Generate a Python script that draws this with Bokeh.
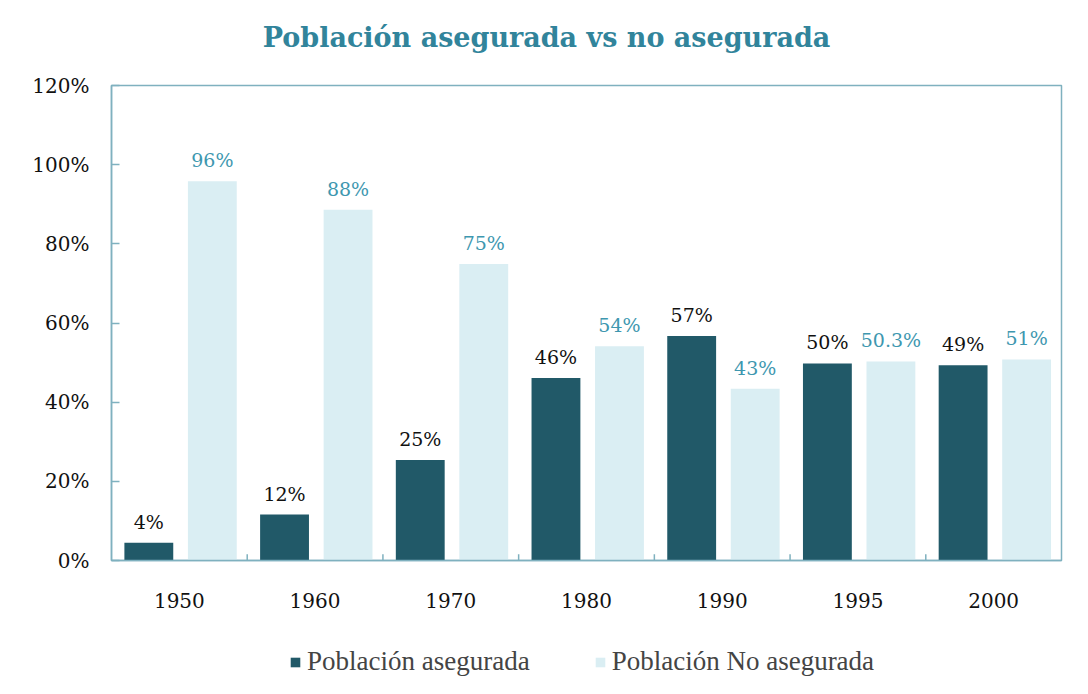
from bokeh.plotting import figure
from bokeh.layouts import column
from bokeh.models import (ColumnDataSource, FactorRange, Legend, LegendItem, Label, FixedTicker,
                          CustomJSTickFormatter, Range1d)
from bokeh.transform import dodge
from bokeh.core.properties import value
from bokeh.embed import file_html
from bokeh.resources import INLINE

years = ["1950", "1960", "1970", "1980", "1990", "1995", "2000"]
asegurada = [4.5, 11.6, 25.4, 46.1, 56.7, 49.8, 49.3]
no_asegurada = [95.8, 88.6, 74.9, 54.1, 43.4, 50.3, 50.8]
asegurada_labels = ["4%", "12%", "25%", "46%", "57%", "50%", "49%"]
no_asegurada_labels = ["96%", "88%", "75%", "54%", "43%", "50.3%", "51%"]
series_names = ["Población asegurada", "Población No asegurada"]
title_text = "Población asegurada vs no asegurada"
y_ticks = [0, 20, 40, 60, 80, 100, 120]
boundaries = [1, 2, 3, 4, 5, 6]

DARK = "#215968"
LIGHT = "#DAEEF3"
TITLE_C = "#31849B"
LIGHT_LBL = "#3E97AF"
FRAME_C = "#7FB1BF"
SERIF = "DejaVu Serif"
W = 1072

src = ColumnDataSource(dict(year=years, a=asegurada, n=no_asegurada,
                            al=asegurada_labels, nl=no_asegurada_labels))
x_range = FactorRange(factors=years)

# ---------- title strip (frame aligned with the chart frame: 111..1061 px) ----------
pt = figure(width=W, height=70, x_range=Range1d(111, 1061), y_range=Range1d(0, 70),
            x_axis_type=None, y_axis_type=None, output_backend="svg", toolbar_location=None,
            min_border=0)
pt.outline_line_color = None
pt.xgrid.visible = False
pt.ygrid.visible = False
pt.add_layout(Label(x=546, y=33, text=title_text, text_align="center", text_baseline="middle",
                    text_font=SERIF, text_font_style="bold", text_font_size="27px",
                    text_color=TITLE_C))

# ---------- main chart ----------
p = figure(frame_width=950, frame_height=475, x_range=x_range, y_range=(0, 120),
           output_backend="svg", toolbar_location=None,
           min_border_left=111, min_border_right=11, min_border_top=15, min_border_bottom=65)
p.outline_line_color = FRAME_C
p.outline_line_width = 1.5
p.xgrid.visible = False
p.ygrid.visible = False

p.vbar(x=dodge("year", -0.225, range=x_range), top="a", width=0.36, source=src,
       fill_color=DARK, line_color=None)
p.vbar(x=dodge("year", 0.243, range=x_range), top="n", width=0.36, source=src,
       fill_color=LIGHT, line_color=None)

p.text(x=dodge("year", -0.225, range=x_range), y="a", text="al", source=src,
       text_align="center", text_baseline="bottom", y_offset=-10,
       text_font=value(SERIF), text_font_size="19px", text_color="#111111")
p.text(x=dodge("year", 0.243, range=x_range), y="n", text="nl", source=src,
       text_align="center", text_baseline="bottom", y_offset=-10,
       text_font=value(SERIF), text_font_size="19px", text_color=LIGHT_LBL)

# category separator ticks on the x axis
p.segment(x0=boundaries, y0=[0] * 6, x1=boundaries, y1=[1.6] * 6, line_color=FRAME_C, line_width=1.5)

p.yaxis.ticker = FixedTicker(ticks=y_ticks)
p.yaxis.formatter = CustomJSTickFormatter(code="return tick + '%';")
for ax in (p.xaxis, p.yaxis):
    ax.axis_line_color = FRAME_C
    ax.axis_line_width = 1.5
    ax.major_label_text_font = SERIF
    ax.major_label_text_font_size = "20px"
    ax.major_label_text_color = "#111111"
    ax.minor_tick_line_color = None
p.yaxis.major_tick_in = 8
p.yaxis.major_tick_out = 0
p.yaxis.major_tick_line_color = FRAME_C
p.yaxis.major_tick_line_width = 1.5
p.yaxis.major_label_standoff = 22
p.xaxis.major_tick_line_color = None
p.xaxis.major_label_standoff = 26

# ---------- legend strip (same series, drawn out of view; only swatches show) ----------
pl = figure(width=W, height=53, x_range=x_range, y_range=Range1d(120, 121),
            x_axis_type=None, y_axis_type=None, output_backend="svg", toolbar_location=None,
            min_border=0)
pl.outline_line_color = None
pl.xgrid.visible = False
pl.ygrid.visible = False
l1 = pl.vbar(x=dodge("year", -0.225, range=x_range), top="a", width=0.36, source=src,
             fill_color=DARK, line_color=None)
l2 = pl.vbar(x=dodge("year", 0.243, range=x_range), top="n", width=0.36, source=src,
             fill_color=LIGHT, line_color=None)
legend = Legend(items=[LegendItem(label=series_names[0], renderers=[l1]),
                       LegendItem(label=series_names[1], renderers=[l2])],
                orientation="horizontal", location=(178, 1),
                label_text_font="Liberation Serif", label_text_font_size="27px",
                glyph_width=12, glyph_height=12, label_standoff=6, spacing=64,
                border_line_color=None, background_fill_alpha=0, margin=0, padding=3)
pl.add_layout(legend)

layout = column(pt, p, pl, spacing=0)
open("out.html", "w").write(file_html(layout, INLINE))
